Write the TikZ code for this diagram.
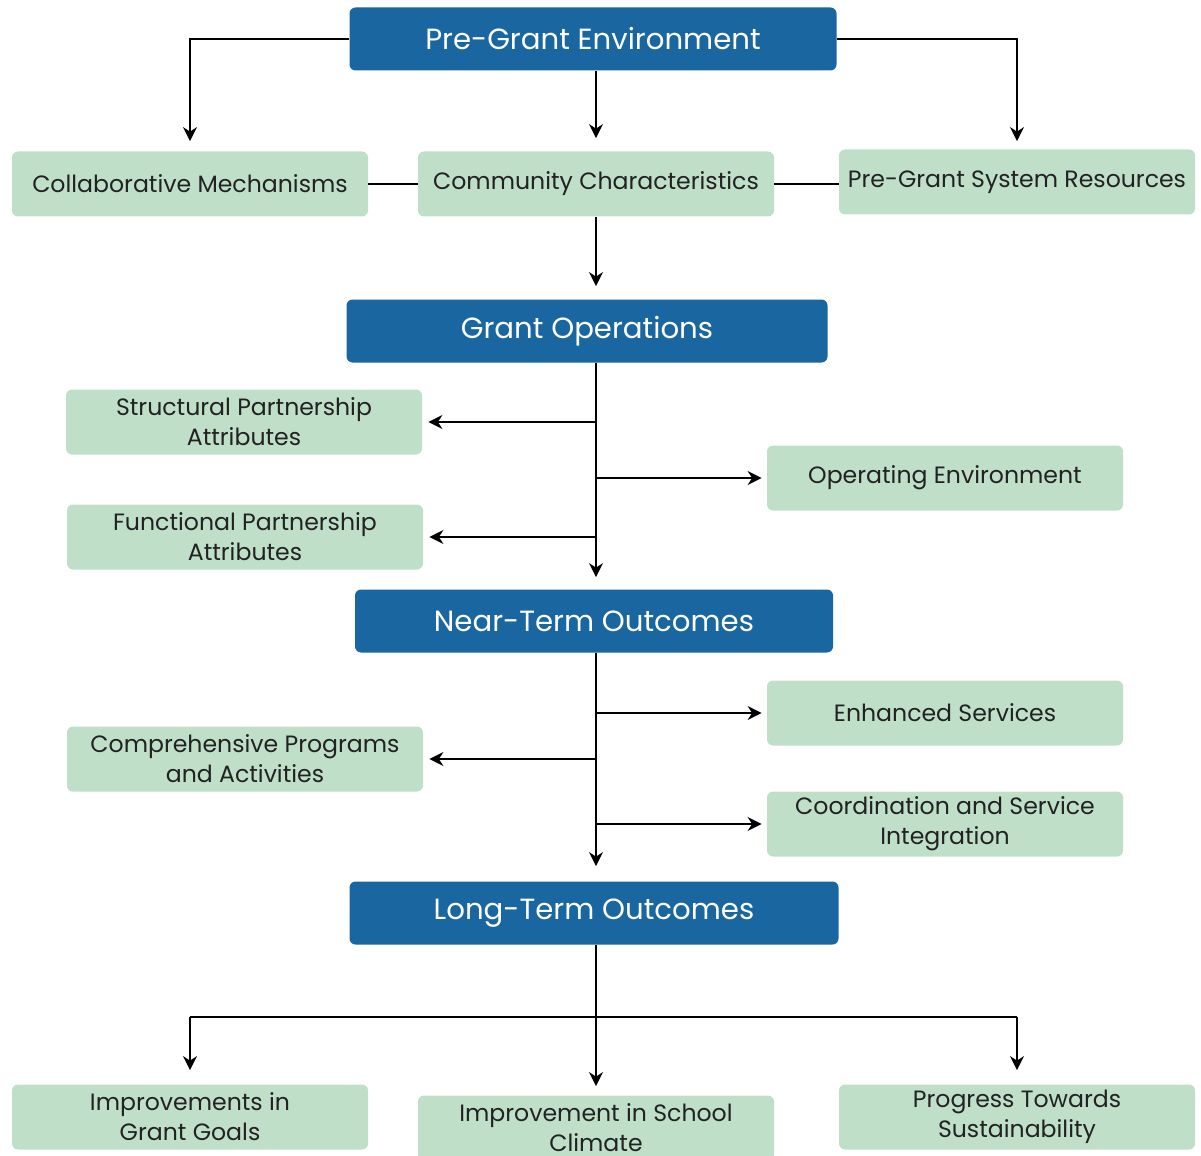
\documentclass[tikz,border=0pt]{standalone}
\usepackage{fontspec}
\setmainfont{Poppins}
\usetikzlibrary{arrows.meta, positioning}
\definecolor{stagebg}{RGB}{25,102,161}
\definecolor{itembg}{RGB}{191,223,201}
\definecolor{textdark}{RGB}{34,34,34}
\tikzset{
  stagebox/.style={rectangle, rounded corners=3pt, fill=stagebg, text=white,
                   minimum width=#1, minimum height=31.5pt,
                   font=\fontsize{14.6}{16}\selectfont, align=center, inner sep=2pt},
  itembox/.style={rectangle, rounded corners=3pt, fill=itembg, text=textdark,
                  minimum width=178pt, minimum height=32.5pt,
                  font=\fontsize{11.8}{15}\selectfont, align=center, inner sep=2pt},
  arrowstyle/.style={-{Stealth[length=7pt, width=7pt]}, line width=1.1pt, color=black},
  linkstyle/.style={line width=1.1pt, color=black},
}
\begin{document}
\begin{tikzpicture}[x=0.5pt, y=-0.5pt]
  \useasboundingbox (0,0) rectangle (1201,1156);
  % stages and items
  \node[stagebox=243.5pt] (pregrant) at (593,39) {Pre-Grant Environment};
  \node[itembox] (collab) at (190,184) {Collaborative Mechanisms};
  \node[itembox] (community) at (596,184) {Community Characteristics};
  \node[itembox] (sysres) at (1017,182) {Pre-Grant System Resources};
  \node[stagebox=240.5pt] (grantops) at (587,331) {Grant Operations};
  \node[itembox] (structural) at (244,422) {Structural Partnership\\Attributes};
  \node[itembox] (operating) at (945,478) {Operating Environment};
  \node[itembox] (functional) at (245,537) {Functional Partnership\\Attributes};
  \node[stagebox=239pt] (nearterm) at (594,621) {Near-Term Outcomes};
  \node[itembox] (enhanced) at (945,713) {Enhanced Services};
  \node[itembox] (programs) at (245,759) {Comprehensive Programs\\and Activities};
  \node[itembox] (coord) at (945,824) {Coordination and Service\\Integration};
  \node[stagebox=244.5pt] (longterm) at (594,913) {Long-Term Outcomes};
  \node[itembox] (goals) at (190,1117) {Improvements in\\Grant Goals};
  \node[itembox] (climate) at (596,1128) {Improvement in School\\Climate};
  \node[itembox] (sustain) at (1017,1117) {Progress Towards\\Sustainability};
  \coordinate (ltsplit) at (595,1017);
  % pre-grant
  \draw[arrowstyle, shorten >=5pt] (pregrant.west) -| (collab.north);
  \draw[arrowstyle, shorten >=4pt] (pregrant.east) -| (sysres.north);
  \draw[arrowstyle, shorten >=6.5pt] (community.north |- pregrant.south) -- (community.north);
  \draw[linkstyle] (collab.east) -- (community.west);
  \draw[linkstyle] (community.east) -- (community.east -| sysres.west);
  \draw[arrowstyle, shorten >=6.5pt] (community.south) -- (community.south |- grantops.north);
  % grant operations
  \draw[arrowstyle, shorten >=6pt] (community.south |- grantops.south) -- (community.south |- nearterm.north);
  \draw[arrowstyle, shorten >=3pt] (community.south |- structural.east) -- (structural.east);
  \draw[arrowstyle, shorten >=2.5pt] (community.south |- operating.west) -- (operating.west);
  \draw[arrowstyle, shorten >=3pt] (community.south |- functional.east) -- (functional.east);
  % near-term outcomes
  \draw[arrowstyle, shorten >=7.5pt] (community.south |- nearterm.south) -- (community.south |- longterm.north);
  \draw[arrowstyle, shorten >=2.5pt] (community.south |- enhanced.west) -- (enhanced.west);
  \draw[arrowstyle, shorten >=3pt] (community.south |- programs.east) -- (programs.east);
  \draw[arrowstyle, shorten >=2.5pt] (community.south |- coord.west) -- (coord.west);
  % long-term outcomes
  \draw[arrowstyle, shorten >=4.5pt] (community.south |- longterm.south) -- (climate.north);
  \draw[linkstyle] (goals.north |- ltsplit) -- (sustain.north |- ltsplit);
  \draw[arrowstyle, shorten >=7pt] (goals.north |- ltsplit) -- (goals.north);
  \draw[arrowstyle, shorten >=7pt] (sustain.north |- ltsplit) -- (sustain.north);
\end{tikzpicture}
\end{document}
